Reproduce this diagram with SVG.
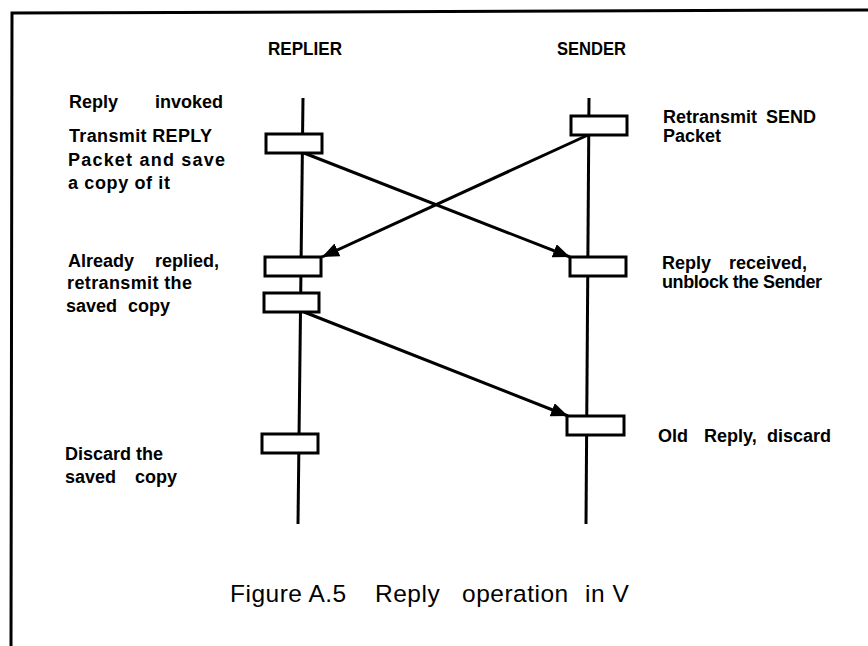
<svg xmlns="http://www.w3.org/2000/svg" width="868" height="646" viewBox="0 0 868 646">
<style>
.lbl{font-family:"Liberation Sans",Arial,Helvetica,sans-serif;font-weight:bold;font-size:18px;fill:#000}
.hdr{font-family:"Liberation Sans",Arial,Helvetica,sans-serif;font-weight:bold;font-size:18px;fill:#000}
.cap{font-family:"Liberation Sans",Arial,Helvetica,sans-serif;font-size:24.5px;letter-spacing:0.5px;fill:#000}
.life{stroke:#000;stroke-width:3;fill:none}
.box{fill:#fff;stroke:#000;stroke-width:3}
.msg{stroke:#000;stroke-width:3;fill:none;marker-end:url(#ah)}
</style>
<defs>
<marker id="ah" markerUnits="userSpaceOnUse" markerWidth="20" markerHeight="16" refX="17" refY="7" orient="auto">
<path d="M0,0 L17,7 L0,14 Z" fill="#000"/>
</marker>
</defs>
<rect width="868" height="646" fill="#fff"/>
<path d="M11,646 L12,13 L868,10" fill="none" stroke="#000" stroke-width="3"/>

<g id="replier">
<text class="hdr" x="268" y="55" textLength="74" lengthAdjust="spacingAndGlyphs">REPLIER</text>
<line class="life" x1="303" y1="98" x2="298" y2="524"/>
</g>
<g id="sender">
<text class="hdr" x="557" y="55" textLength="69" lengthAdjust="spacingAndGlyphs">SENDER</text>
<line class="life" x1="589" y1="98" x2="586" y2="524"/>
</g>

<g id="connectors">
<line class="msg" x1="304" y1="153" x2="570" y2="257"/>
<line class="msg" x1="588" y1="135" x2="322" y2="257"/>
<line class="msg" x1="304" y1="312" x2="568" y2="416"/>
</g>

<g id="r-box1"><rect class="box" x="266" y="134" width="56" height="19"/></g>
<g id="r-box2"><rect class="box" x="265" y="257" width="56" height="19"/></g>
<g id="r-box3"><rect class="box" x="264" y="293" width="55" height="19"/></g>
<g id="r-box4"><rect class="box" x="262" y="434" width="56" height="19"/></g>
<g id="s-box1"><rect class="box" x="571" y="116" width="56" height="19"/></g>
<g id="s-box2"><rect class="box" x="570" y="257" width="56" height="19"/></g>
<g id="s-box3"><rect class="box" x="567" y="416" width="57" height="19"/></g>

<g id="left-labels">
<text class="lbl" y="108"><tspan x="69">Reply </tspan><tspan x="155">invoked</tspan></text>
<text class="lbl" x="69" y="142" textLength="143" lengthAdjust="spacing">Transmit REPLY</text>
<text class="lbl" x="68" y="166" textLength="157" lengthAdjust="spacing">Packet and save</text>
<text class="lbl" x="68" y="189" textLength="102" lengthAdjust="spacing">a copy of it</text>
<text class="lbl" y="267"><tspan x="68">Already </tspan><tspan x="155">replied,</tspan></text>
<text class="lbl" x="67" y="289" textLength="125" lengthAdjust="spacing">retransmit the</text>
<text class="lbl" y="312"><tspan x="66">saved </tspan><tspan x="128">copy</tspan></text>
<text class="lbl" x="65" y="460" textLength="98" lengthAdjust="spacing">Discard the</text>
<text class="lbl" y="483"><tspan x="65">saved </tspan><tspan x="135">copy</tspan></text>
</g>

<g id="right-labels">
<text class="lbl" y="123"><tspan x="663">Retransmit </tspan><tspan x="766">SEND</tspan></text>
<text class="lbl" x="663" y="142" textLength="58" lengthAdjust="spacing">Packet</text>
<text class="lbl" y="269"><tspan x="662">Reply </tspan><tspan x="729">received,</tspan></text>
<text class="lbl" x="662" y="288" textLength="160" lengthAdjust="spacing">unblock the Sender</text>
<text class="lbl" y="442"><tspan x="658">Old </tspan><tspan x="704">Reply, </tspan><tspan x="767">discard</tspan></text>
</g>

<g id="caption">
<text class="cap" y="602"><tspan x="230">Figure A.5 </tspan><tspan x="375">Reply </tspan><tspan x="462">operation </tspan><tspan x="585">in V</tspan></text>
</g>
</svg>
